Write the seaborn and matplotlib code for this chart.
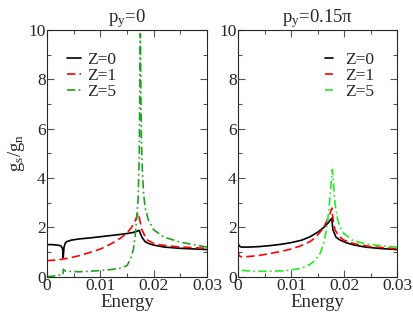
import pandas as pd
import matplotlib
matplotlib.use("Agg")
import matplotlib.pyplot as plt
import seaborn as sns
from matplotlib.ticker import MultipleLocator

# --- data ---
# left panel, p_y = 0
e0_z0 = [0, 0.001, 0.002, 0.0026, 0.0029, 0.0030, 0.00305, 0.0031, 0.0032, 0.0034, 0.0037,
         0.0045, 0.006, 0.008, 0.010, 0.012, 0.0136, 0.015, 0.0161, 0.0170, 0.0173, 0.0175,
         0.0178, 0.0184, 0.019, 0.020, 0.022, 0.025, 0.028, 0.030]
g0_z0 = [1.30, 1.30, 1.28, 1.25, 1.15, 1.00, 0.76, 0.95, 1.20, 1.35, 1.42,
         1.48, 1.53, 1.57, 1.62, 1.67, 1.71, 1.75, 1.79, 1.85, 1.88, 1.75,
         1.60, 1.42, 1.35, 1.28, 1.20, 1.15, 1.12, 1.10]
e0_z1 = [0, 0.002, 0.004, 0.006, 0.008, 0.010, 0.012, 0.0137, 0.0149, 0.0158, 0.0165,
         0.0171, 0.0174, 0.0178, 0.0187, 0.020, 0.0212, 0.024, 0.027, 0.030]
g0_z1 = [0.65, 0.68, 0.75, 0.85, 0.98, 1.12, 1.33, 1.55, 1.75, 1.98, 2.25,
         2.58, 2.30, 1.90, 1.50, 1.35, 1.29, 1.22, 1.18, 1.15]
e0_z5 = [0, 0.001, 0.002, 0.003, 0.00305, 0.0035, 0.006, 0.008, 0.010, 0.012, 0.0137,
         0.015, 0.0156, 0.0162, 0.0165, 0.0168, 0.0171, 0.0173, 0.0174, 0.0175, 0.0176,
         0.0177, 0.0179, 0.0181, 0.0184, 0.019, 0.020, 0.022, 0.025, 0.028, 0.030]
g0_z5 = [0.0, 0.02, 0.05, 0.08, 0.30, 0.22, 0.20, 0.22, 0.25, 0.29, 0.34,
         0.45, 0.68, 1.10, 1.60, 2.30, 3.20, 5.00, 7.50, 9.85, 7.50,
         5.50, 4.20, 3.40, 2.80, 2.30, 1.90, 1.60, 1.40, 1.28, 1.20]

# right panel, p_y = 0.15 pi
e1_z0 = [0, 0.0002, 0.0006, 0.002, 0.004, 0.006, 0.008, 0.010, 0.012, 0.0136, 0.0150,
         0.0161, 0.0170, 0.0175, 0.0177, 0.0179, 0.0185, 0.0192, 0.0205, 0.0218, 0.024,
         0.027, 0.030]
g1_z0 = [1.38, 1.25, 1.20, 1.20, 1.22, 1.26, 1.31, 1.38, 1.48, 1.62, 1.80,
         1.98, 2.18, 2.32, 2.37, 1.90, 1.60, 1.49, 1.37, 1.29, 1.20,
         1.14, 1.10]
e1_z1 = [0, 0.0002, 0.0007, 0.002, 0.004, 0.0055, 0.008, 0.010, 0.0117, 0.0136, 0.0148,
         0.0161, 0.0170, 0.0175, 0.0177, 0.0180, 0.0183, 0.0190, 0.0199, 0.022, 0.025, 0.030]
g1_z1 = [1.05, 0.85, 0.80, 0.82, 0.86, 0.92, 1.02, 1.12, 1.24, 1.42, 1.63,
         1.97, 2.37, 2.65, 2.78, 2.20, 1.90, 1.65, 1.49, 1.33, 1.22, 1.13]
e1_z5 = [0, 0.00005, 0.0001, 0.0004, 0.001, 0.003, 0.006, 0.0089, 0.012, 0.0136, 0.0145,
         0.0155, 0.0161, 0.0166, 0.0170, 0.0173, 0.0176, 0.0178, 0.0180, 0.0183, 0.0187,
         0.0192, 0.0200, 0.0215, 0.024, 0.027, 0.030]
g1_z5 = [0.12, 0.48, 0.30, 0.27, 0.25, 0.22, 0.22, 0.24, 0.34, 0.50, 0.65,
         0.95, 1.30, 1.80, 2.44, 3.10, 3.90, 4.34, 3.80, 2.98, 2.40,
         2.03, 1.75, 1.49, 1.33, 1.25, 1.20]

labels = ["Z=0", "Z=1", "Z=5"]
titles = ["p$_\\mathregular{y}$=0", "p$_\\mathregular{y}$=0.15\u03c0"]

sns.set_theme(style="ticks")
plt.rcParams["font.family"] = ["Liberation Serif", "DejaVu Serif"]
plt.rcParams["mathtext.fontset"] = "custom"
plt.rcParams["mathtext.rm"] = "Liberation Serif"
plt.rcParams["mathtext.default"] = "regular"

fig = plt.figure(figsize=(4.14, 3.14), dpi=100)
ax_l = fig.add_axes([0.1135, 0.1188, 0.3865, 0.7857])
ax_r = fig.add_axes([0.5749, 0.1188, 0.3841, 0.7857])

panels = [
    (ax_l, [(e0_z0, g0_z0), (e0_z1, g0_z1), (e0_z5, g0_z5)], "#1fa01f"),
    (ax_r, [(e1_z0, g1_z0), (e1_z1, g1_z1), (e1_z5, g1_z5)], "#22ee22"),
]
styles = ["-", (0, (5, 2.5)), (0, (5, 2, 1, 2))]
fmt = plt.FuncFormatter(lambda v, p: "0" if v == 0 else f"{v:g}")

for k, (ax, series, green) in enumerate(panels):
    colors = ["black", "red", green]
    for (e, g), lab, col, ls in zip(series, labels, colors, styles):
        df = pd.DataFrame({"Energy": e, "g": g})
        sns.lineplot(data=df, x="Energy", y="g", ax=ax, color=col, lw=1.2,
                     linestyle=ls, label=lab, estimator=None)
    ax.set_xlim(0, 0.03)
    ax.set_ylim(0, 10)
    ax.xaxis.set_major_locator(MultipleLocator(0.01))
    ax.xaxis.set_minor_locator(MultipleLocator(0.005))
    ax.yaxis.set_major_locator(MultipleLocator(2))
    ax.yaxis.set_minor_locator(MultipleLocator(1))
    ax.xaxis.set_major_formatter(fmt)
    ax.tick_params(which="both", direction="in", top=True, right=True, labelsize=12.5,
                   width=0.8, color="#555555", pad=1)
    ax.tick_params(which="major", length=5)
    ax.tick_params(which="minor", length=3)
    for s in ax.spines.values():
        s.set_linewidth(0.8)
    ax.set_xlabel("Energy", fontsize=13.5, labelpad=0)
    ax.set_ylabel("")
    ax.set_title(titles[k], fontsize=13.5, pad=4)

ax_l.set_ylabel("g$_s$/g$_n$", fontsize=13.5, labelpad=1)

ax_l.legend(loc="upper left", bbox_to_anchor=(0.08, 0.94), frameon=False, fontsize=12.5,
            handlelength=0.8, handletextpad=0.35, labelspacing=0, borderaxespad=0)
ax_r.legend(loc="upper right", bbox_to_anchor=(0.9, 0.94), frameon=False, fontsize=12.5,
            handlelength=0.45, handletextpad=0.7, labelspacing=0, borderaxespad=0)

fig.savefig("out.png", dpi=100)
